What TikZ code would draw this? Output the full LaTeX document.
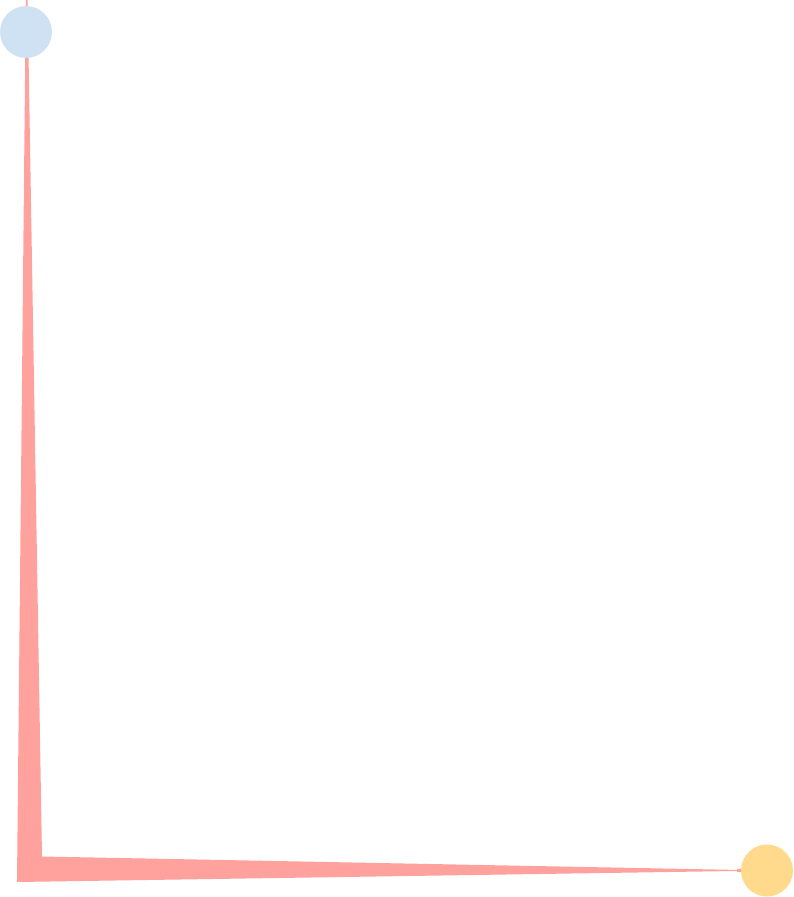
\documentclass[tikz,border=0pt]{standalone}
\usepackage{tikz}

\definecolor{wedgepink}{HTML}{FFA29E}
\definecolor{dotblue}{HTML}{CFE2F3}
\definecolor{dotyellow}{HTML}{FFDA8C}

\begin{document}
\begin{tikzpicture}[x=1pt,y=-1pt,
  dot/.style={circle,inner sep=0pt,minimum size=52pt}]
\useasboundingbox (0,0) rectangle (794,897);

\coordinate (top) at (26.5,0);
\coordinate (end) at (767,870.5);

\fill[wedgepink] (25.8,0) -- (17,882) -- (end) -- (42,856.5) -- (27.6,0) -- cycle;
\fill[wedgepink] (end) ++(0,-1) -- ++(-30,-0.6) -- ++(0,3.2) -- cycle;

\node[dot,fill=dotblue] (start) at (26,32) {};
\node[dot,fill=dotyellow] (stop) at (end) {};
\end{tikzpicture}
\end{document}
